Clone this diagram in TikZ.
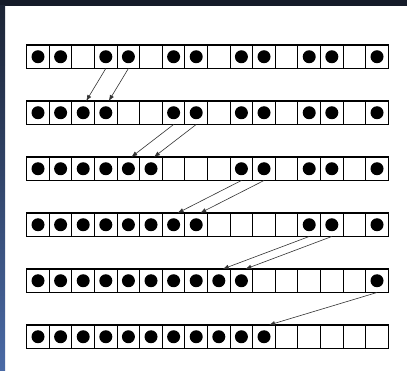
\documentclass[tikz,border=0pt]{standalone}
\usetikzlibrary{arrows.meta}
\definecolor{topband}{HTML}{151B29}
\definecolor{stripTop}{HTML}{1C2435}
\definecolor{stripBot}{HTML}{4A6AA6}
\begin{document}
\begin{tikzpicture}[x=1pt,y=-1pt,
  cell/.style={draw=black,line width=1.1pt,minimum width=22.6pt,minimum height=23.5pt,inner sep=0pt,outer sep=0pt,anchor=north west},
  mv/.style={-{Latex[length=6pt,width=4.5pt]},line width=0.6pt,draw=black!80}]
\useasboundingbox (0,0) rectangle (407,371);
\fill[white] (0,0) rectangle (407,371);
\fill[topband] (0,0) rectangle (407,6);
\shade[top color=stripTop,bottom color=stripBot] (0,6) rectangle (5,371);
\foreach \r in {1,...,6}
  \foreach \i in {0,...,15}
    \node[cell,name=c-\r-\i] at ({26.7+22.6*\i},{45+56*(\r-1)}) {};
\foreach \r/\dl in {1/{0,1,3,4,6,7,9,10,12,13,15},
                    2/{0,1,2,3,6,7,9,10,12,13,15},
                    3/{0,1,2,3,4,5,9,10,12,13,15},
                    4/{0,1,2,3,4,5,6,7,12,13,15},
                    5/{0,1,2,3,4,5,6,7,8,9,15},
                    6/{0,1,2,3,4,5,6,7,8,9,10}}
  \foreach \i in \dl
    \fill[black] (c-\r-\i.center) circle (6.5pt);
\draw[mv] (c-1-3.south) -- ([xshift=3pt]c-2-2.north);
\draw[mv] (c-1-4.south) -- ([xshift=3pt]c-2-3.north);
\draw[mv] (c-2-6.south) -- ([xshift=3pt]c-3-4.north);
\draw[mv] (c-2-7.south) -- ([xshift=3pt]c-3-5.north);
\draw[mv] (c-3-9.south) -- ([xshift=4pt]c-4-6.north);
\draw[mv] (c-3-10.south) -- ([xshift=4pt]c-4-7.north);
\draw[mv] (c-4-12.south) -- ([xshift=4pt]c-5-8.north);
\draw[mv] (c-4-13.south) -- ([xshift=4pt]c-5-9.north);
\draw[mv] (c-5-15.south) -- ([xshift=5pt]c-6-10.north);
\end{tikzpicture}
\end{document}
